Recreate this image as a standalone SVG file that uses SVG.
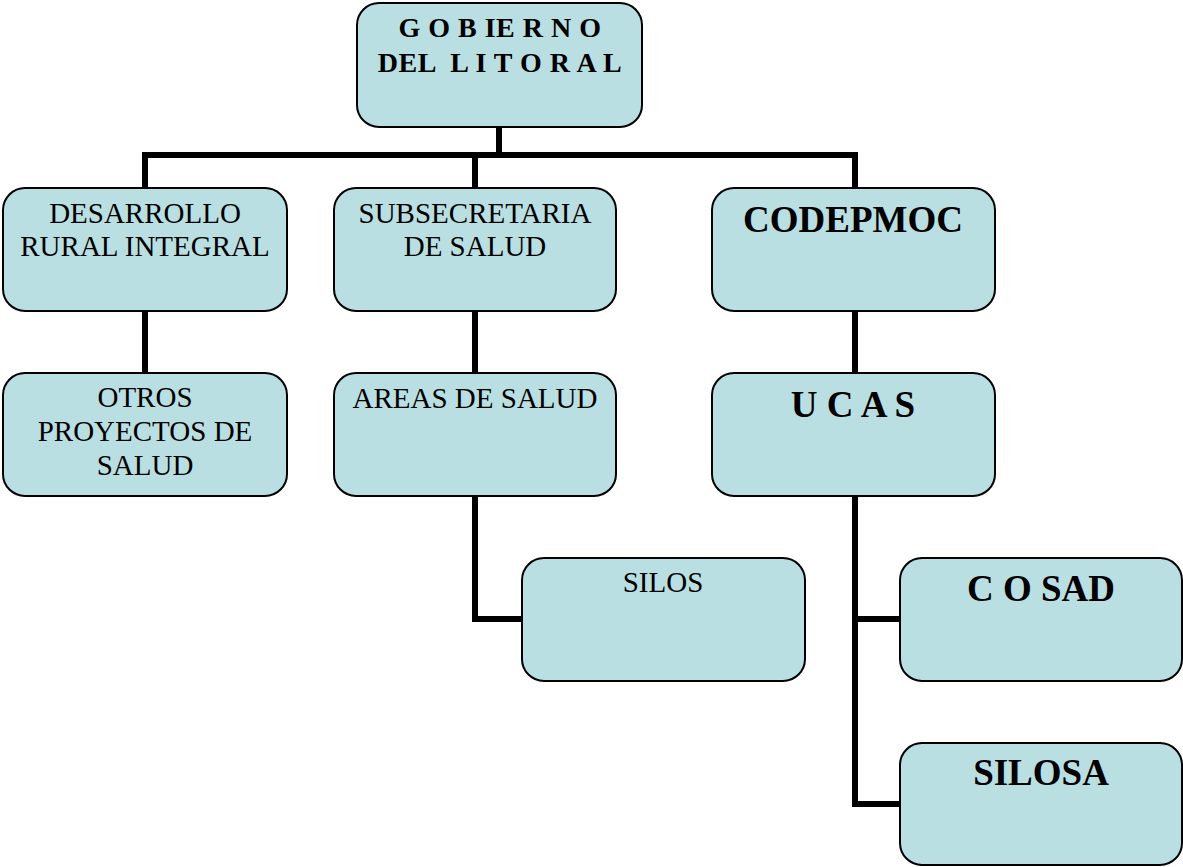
<svg xmlns="http://www.w3.org/2000/svg" width="1183" height="867" viewBox="0 0 1183 867">
<style>
.box{fill:#B9DFE2;stroke:#000;stroke-width:2}
.t{font-family:"Liberation Serif","Times New Roman",serif;font-size:29px;fill:#000;text-anchor:middle}
.b{font-family:"Liberation Serif","Times New Roman",serif;font-weight:bold;font-size:37px;fill:#000;text-anchor:middle}
.g{font-family:"Liberation Serif","Times New Roman",serif;font-weight:bold;font-size:28px;fill:#000;text-anchor:middle;letter-spacing:0.5px}
.c{fill:none;stroke:#000;stroke-width:6;stroke-linecap:square;stroke-linejoin:miter}
</style>
<rect width="1183" height="867" fill="#fff"/>
<g id="connectors">
<path class="c" d="M499 128 V155 M145 188 V155 H855 V188 M475 155 V188"/>
<path class="c" d="M145 311 V373"/>
<path class="c" d="M475 311 V373"/>
<path class="c" d="M855 311 V373"/>
<path class="c" d="M475 496 V619 H522"/>
<path class="c" d="M855 496 V804 H900 M855 619 H900"/>
</g>
<g id="gobierno">
<rect class="box" x="357" y="3" width="285" height="124" rx="22"/>
<text class="g" x="500" y="37">G O B IE R N O</text>
<text class="g" x="500" y="72" xml:space="preserve">DEL  L I T O R A L</text>
</g>
<g id="desarrollo">
<rect class="box" x="3" y="188" width="284" height="123" rx="22"/>
<text class="t" x="145" y="223">DESARROLLO</text>
<text class="t" x="145" y="256">RURAL INTEGRAL</text>
</g>
<g id="subsecretaria">
<rect class="box" x="334" y="188" width="282" height="123" rx="22"/>
<text class="t" x="475" y="223">SUBSECRETARIA</text>
<text class="t" x="475" y="256">DE SALUD</text>
</g>
<g id="codepmoc">
<rect class="box" x="712" y="188" width="283" height="123" rx="22"/>
<text class="b" x="853" y="232">CODEPMOC</text>
</g>
<g id="otros">
<rect class="box" x="3" y="373" width="284" height="123" rx="22"/>
<text class="t" x="145" y="407">OTROS</text>
<text class="t" x="145" y="441">PROYECTOS DE</text>
<text class="t" x="145" y="475">SALUD</text>
</g>
<g id="areas">
<rect class="box" x="334" y="373" width="282" height="123" rx="22"/>
<text class="t" x="475" y="408">AREAS DE SALUD</text>
</g>
<g id="ucas">
<rect class="box" x="712" y="373" width="283" height="123" rx="22"/>
<text class="b" x="853" y="417">U C A S</text>
</g>
<g id="silos">
<rect class="box" x="522" y="558" width="283" height="123" rx="22"/>
<text class="t" x="663" y="592">SILOS</text>
</g>
<g id="cosad">
<rect class="box" x="900" y="558" width="282" height="123" rx="22"/>
<text class="b" x="1041" y="601">C O SAD</text>
</g>
<g id="silosa">
<rect class="box" x="900" y="743" width="282" height="122" rx="22"/>
<text class="b" x="1041" y="785">SILOSA</text>
</g>
</svg>
